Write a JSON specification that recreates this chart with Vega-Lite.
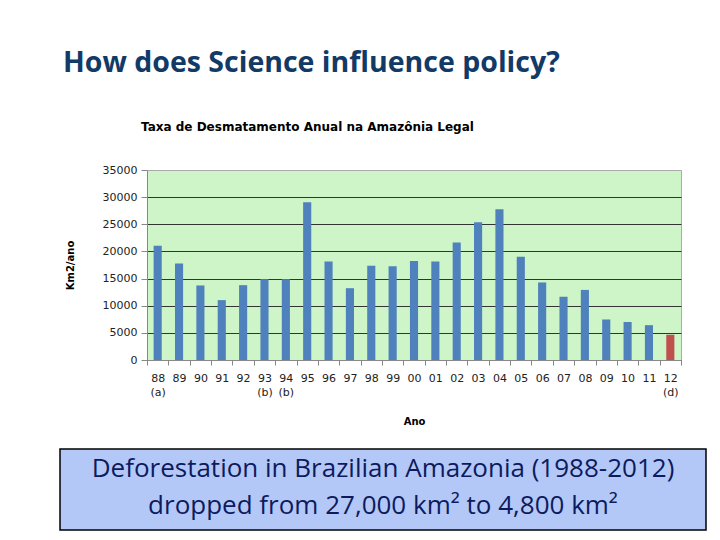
{
  "$schema": "https://vega.github.io/schema/vega-lite/v6.json",
  "background": "white",
  "padding": {"left": 59, "top": 49, "right": 5, "bottom": 5},
  "title": {"text": "How does Science influence policy?", "anchor": "start", "frame": "group", "dx": 3, "offset": 43, "font": "Open Sans", "fontSize": 28.5, "fontWeight": "bold", "color": "#123a66"},
  "spacing": 21,
  "vconcat": [
    {
      "spacing": 3,
      "hconcat": [
        {
          "width": 1,
          "height": 1,
          "data": {"values": []},
          "mark": "point",
          "view": {"stroke": null, "fill": null}
        },
        {
          "width": 534,
          "height": 190,
          "title": {"text": "Taxa de Desmatamento Anual na Amazônia Legal", "anchor": "start", "frame": "group", "dx": -6, "offset": 30, "font": "DejaVu Sans", "fontSize": 12, "fontWeight": "bold", "color": "black"},
          "data": {"values": [
            {"ano": "88 (a)", "km2": 21050, "tipo": "PRODES"},
            {"ano": "89", "km2": 17770, "tipo": "PRODES"},
            {"ano": "90", "km2": 13730, "tipo": "PRODES"},
            {"ano": "91", "km2": 11030, "tipo": "PRODES"},
            {"ano": "92", "km2": 13786, "tipo": "PRODES"},
            {"ano": "93 (b)", "km2": 14896, "tipo": "PRODES"},
            {"ano": "94 (b)", "km2": 14896, "tipo": "PRODES"},
            {"ano": "95", "km2": 29059, "tipo": "PRODES"},
            {"ano": "96", "km2": 18161, "tipo": "PRODES"},
            {"ano": "97", "km2": 13227, "tipo": "PRODES"},
            {"ano": "98", "km2": 17383, "tipo": "PRODES"},
            {"ano": "99", "km2": 17259, "tipo": "PRODES"},
            {"ano": "00", "km2": 18226, "tipo": "PRODES"},
            {"ano": "01", "km2": 18165, "tipo": "PRODES"},
            {"ano": "02", "km2": 21651, "tipo": "PRODES"},
            {"ano": "03", "km2": 25396, "tipo": "PRODES"},
            {"ano": "04", "km2": 27772, "tipo": "PRODES"},
            {"ano": "05", "km2": 19014, "tipo": "PRODES"},
            {"ano": "06", "km2": 14286, "tipo": "PRODES"},
            {"ano": "07", "km2": 11651, "tipo": "PRODES"},
            {"ano": "08", "km2": 12911, "tipo": "PRODES"},
            {"ano": "09", "km2": 7464, "tipo": "PRODES"},
            {"ano": "10", "km2": 7000, "tipo": "PRODES"},
            {"ano": "11", "km2": 6418, "tipo": "PRODES"},
            {"ano": "12 (d)", "km2": 4656, "tipo": "Estimativa"}
          ]},
          "mark": {"type": "bar", "width": {"band": 0.38}},
          "encoding": {
            "x": {
              "field": "ano", "type": "nominal", "sort": null,
              "scale": {"paddingInner": 0, "paddingOuter": 0},
              "axis": {
                "title": "Ano", "titleFont": "DejaVu Sans", "titleFontSize": 10, "titleFontWeight": "bold", "titleColor": "black", "titlePadding": 19,
                "labelAngle": 0, "labelExpr": "datum.value ? split(datum.value, ' ') : ''", "labelFont": "DejaVu Sans", "labelFontSize": 11, "labelColor": "#222",
                "labelLineHeight": 14, "labelPadding": 7, "labelOverlap": false, "labelBound": false,
                "tickSize": 5, "tickColor": "#888", "domainColor": "#888", "tickBand": "extent", "grid": false
              }
            },
            "y": {
              "field": "km2", "type": "quantitative",
              "scale": {"domain": [0, 35000], "nice": false},
              "axis": {
                "title": "Km2/ano", "titleFont": "DejaVu Sans", "titleFontSize": 10, "titleFontWeight": "bold", "titleColor": "black", "titlePadding": 27,
                "values": [0, 5000, 10000, 15000, 20000, 25000, 30000, 35000], "format": "d",
                "labelFont": "DejaVu Sans", "labelFontSize": 11, "labelColor": "#222", "labelPadding": 4,
                "tickSize": 6, "tickColor": "#888", "domainColor": "#888",
                "grid": true, "gridOpacity": 1,
                "gridColor": {"condition": {"test": "datum.value == 35000", "value": "#aaaaaa"}, "value": "#333333"}
              }
            },
            "color": {"field": "tipo", "type": "nominal", "scale": {"domain": ["PRODES", "Estimativa"], "range": ["#4f81bd", "#c0504d"]}, "legend": null}
          },
          "view": {"fill": "#cdf5c8", "stroke": "#aaaaaa"}
        }
      ]
    },
    {
      "width": 646,
      "height": 81,
      "data": {"values": [
        {"linha": 1, "texto": "Deforestation in Brazilian Amazonia (1988-2012)"},
        {"linha": 2, "texto": "dropped from 27,000 km² to 4,800 km²"}
      ]},
      "mark": {"type": "text", "font": "Open Sans", "fontSize": 26, "color": "#0d1b5e", "dy": -2},
      "encoding": {
        "y": {"field": "linha", "type": "ordinal", "axis": null, "scale": {"padding": 0.6}},
        "text": {"field": "texto"}
      },
      "view": {"fill": "#b4c8f8", "stroke": "black", "strokeWidth": 1.5}
    }
  ]
}
